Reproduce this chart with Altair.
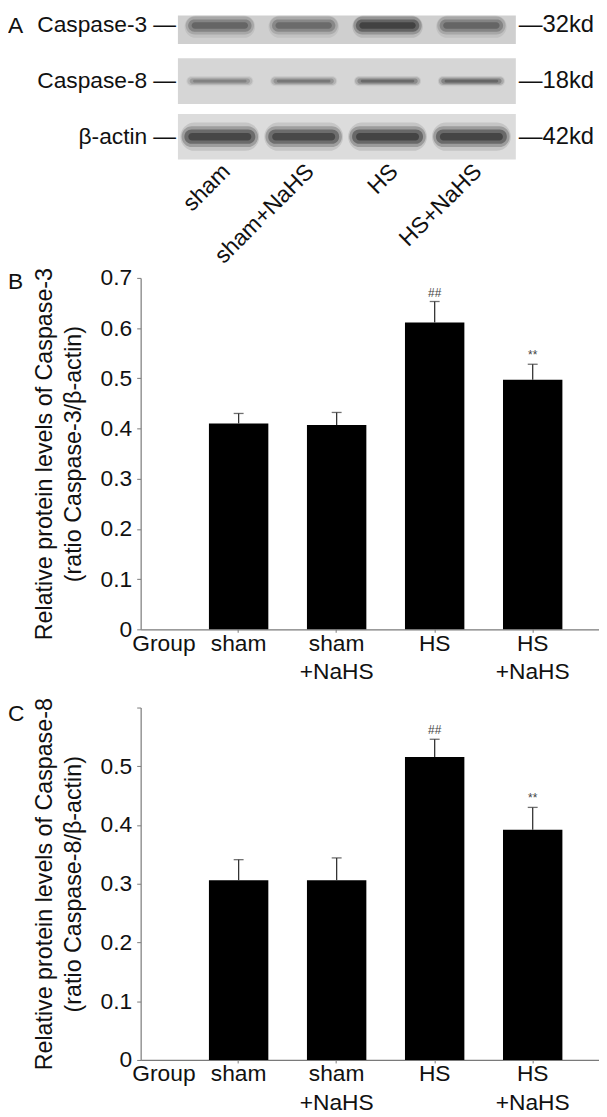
import json
import altair as alt
import pandas as pd

# ---------------- data ----------------
groups = ["sham", "sham+NaHS", "HS", "HS+NaHS"]
casp3_mean = [0.410, 0.407, 0.611, 0.497]
casp3_err = [0.020, 0.025, 0.042, 0.031]
casp8_mean = [0.306, 0.306, 0.516, 0.392]
casp8_err = [0.035, 0.038, 0.030, 0.038]
sig_marks = ["", "", "##", "**"]

blot_proteins = ["Caspase-3", "Caspase-8", "β-actin"]
blot_weights = ["32kd", "18kd", "42kd"]
band_casp3 = [0.60, 0.55, 0.92, 0.60]
band_casp8 = [0.42, 0.48, 0.58, 0.62]
band_actin = [0.90, 0.88, 0.94, 0.92]

y_ticks_b = [0, 0.1, 0.2, 0.3, 0.4, 0.5, 0.6, 0.7]
y_ticks_c = [0, 0.1, 0.2, 0.3, 0.4, 0.5, 0.6]

# ---------------- style ----------------
FONT = "Liberation Sans"
W = 463
HA = 186
TXT = "#111111"
AX = "#7a7a7a"
FS = 23

# ---------------- panel A: western blot ----------------
lanes = [1, 2, 3, 4]
lane_scale = alt.Scale(domain=[0.0555, 5.522], nice=False, zero=False)
row_scale = alt.Scale(domain=[-0.18, 3.135], nice=False, zero=False, reverse=True, clamp=True)
strip_left, strip_right = 0.5, 4.53
strip_half_top = [0.41, 0.41, 0.41]
strip_half_bot = [0.33, 0.41, 0.41]
strip_fill = ["#cfcfcf", "#d6d6d6", "#dcdcdc"]
band_half_w = [0.42, 0.40, 0.47]
band_half_h = [0.13, 0.055, 0.15]
band_layers = [(1.0, 1.7, 0.12), (0.97, 1.25, 0.25), (0.9, 0.85, 0.4), (0.8, 0.45, 0.45)]

strips = pd.DataFrame({
    "x1": [strip_left] * 3,
    "x2": [strip_right] * 3,
    "y1": [r - strip_half_top[r] for r in range(3)],
    "y2": [r + strip_half_bot[r] for r in range(3)],
    "fill": strip_fill,
})

band_rows = []
for r, vals in enumerate([band_casp3, band_casp8, band_actin]):
    for lane, v in zip(lanes, vals):
        for sx, sy, op in band_layers:
            band_rows.append(dict(
                x1=lane - band_half_w[r] * sx, x2=lane + band_half_w[r] * sx,
                y1=r - band_half_h[r] * sy, y2=r + band_half_h[r] * sy, op=v * op))
bands = pd.DataFrame(band_rows)

names = pd.DataFrame({
    "row": [0, 1, 2],
    "xl": [strip_left] * 3,
    "xr": [strip_right] * 3,
    "name": [blot_proteins[0], blot_proteins[1], blot_proteins[2] + "\u00a0\u00a0"],
    "kd": ["\u2014" + k for k in blot_weights],
    "dash": ["\u2014"] * 3,
})
lane_df = pd.DataFrame({"lx": [l + 0.08 for l in lanes], "name": groups})

strip_layer = alt.Chart(strips).mark_rect().encode(
    x=alt.X("x1:Q", scale=lane_scale, axis=None), x2="x2:Q",
    y=alt.Y("y1:Q", scale=row_scale, axis=None), y2="y2:Q",
    color=alt.Color("fill:N", scale=None))
band_layer = alt.Chart(bands).mark_rect(color="#141414", cornerRadius=30).encode(
    x=alt.X("x1:Q", scale=lane_scale, axis=None), x2="x2:Q",
    y=alt.Y("y1:Q", scale=row_scale, axis=None), y2="y2:Q",
    opacity=alt.Opacity("op:Q", scale=None))
name_layer = alt.Chart(names).mark_text(align="right", baseline="middle", fontSize=FS, dx=-31, color=TXT).encode(
    x=alt.X("xl:Q", scale=lane_scale, axis=None), y=alt.Y("row:Q", scale=row_scale, axis=None), text="name:N")
dash_layer = alt.Chart(names).mark_text(align="right", baseline="middle", fontSize=FS, dx=-2, color=TXT).encode(
    x=alt.X("xl:Q", scale=lane_scale, axis=None), y=alt.Y("row:Q", scale=row_scale, axis=None), text="dash:N")
kd_layer = alt.Chart(names).mark_text(align="left", baseline="middle", fontSize=24, dx=3, color=TXT).encode(
    x=alt.X("xr:Q", scale=lane_scale, axis=None), y=alt.Y("row:Q", scale=row_scale, axis=None), text="kd:N")
lane_layer = alt.Chart(lane_df).mark_text(angle=315, align="right", baseline="middle", fontSize=FS, color=TXT).encode(
    x=alt.X("lx:Q", scale=lane_scale, axis=None), y=alt.value(154), text="name:N")
letter_a = alt.Chart(pd.DataFrame({"t": ["A"]})).mark_text(
    align="left", baseline="top", fontSize=FS, color=TXT).encode(x=alt.value(-134), y=alt.value(0), text="t:N")

panel_a = alt.layer(strip_layer, band_layer, name_layer, dash_layer, kd_layer, lane_layer, letter_a).properties(
    width=W, height=HA)


# ---------------- panels B and C: bar charts ----------------
def bar_panel(means, errs, ticks, ymax, label_max, title_lines, letter, letter_y, height):
    df = pd.DataFrame({"group": groups, "mean": means, "err": errs, "sig": sig_marks})
    df["top"] = df["mean"] + df["err"]
    xaxis = alt.Axis(
        title="Group", titleX=23, titleY=3, titleAlign="center", titleBaseline="top",
        titleFontSize=FS, titleFontWeight="normal", titleColor=TXT,
        labelExpr="split(replace(datum.label, '+', ' +'), ' ')",
        labelAngle=0, labelFontSize=FS, labelLineHeight=29, labelPadding=0, labelBaseline="top",
        labelColor=TXT, tickSize=3, tickColor=AX, domainColor=AX, domainWidth=1.2, grid=False)
    label_expr = ("datum.value == 0 ? '0' : (datum.value > %s ? '' : format(datum.value, '.1f'))" % label_max)
    yaxis = alt.Axis(
        values=ticks, labelExpr=label_expr, title=title_lines,
        titleFontSize=23.5, titleFontWeight="normal", titleLineHeight=29, titlePadding=15, titleColor=TXT,
        labelFontSize=FS, labelPadding=5, labelColor=TXT, tickSize=4, tickColor=AX,
        domainColor=AX, domainWidth=1.2, grid=False)
    xscale = alt.Scale(paddingInner=0.394, paddingOuter=0.535, align=0.651)
    yscale = alt.Scale(domain=[0, ymax], nice=False)

    base = alt.Chart(df)
    bars = base.mark_bar(color="#000000").encode(
        x=alt.X("group:N", sort=groups, scale=xscale, axis=xaxis),
        y=alt.Y("mean:Q", scale=yscale, axis=yaxis))
    err = base.mark_rule(color="#333333", strokeWidth=1.3).encode(
        x=alt.X("group:N", sort=groups, scale=xscale, axis=xaxis),
        y=alt.Y("mean:Q", scale=yscale, axis=yaxis), y2="top:Q")
    cap = base.mark_tick(color="#333333", thickness=1.3, size=10).encode(
        x=alt.X("group:N", sort=groups, scale=xscale, axis=xaxis),
        y=alt.Y("top:Q", scale=yscale, axis=yaxis))
    sig = base.mark_text(dy=-9, fontSize=12, color="#444444", baseline="middle").encode(
        x=alt.X("group:N", sort=groups, scale=xscale, axis=xaxis),
        y=alt.Y("top:Q", scale=yscale, axis=yaxis), text="sig:N")
    let = alt.Chart(pd.DataFrame({"t": [letter]})).mark_text(
        align="left", baseline="top", fontSize=FS, color=TXT).encode(
        x=alt.value(-134), y=alt.value(letter_y), text="t:N")
    return alt.layer(bars, err, cap, sig, let).properties(width=W, height=height)


panel_b = bar_panel(casp3_mean, casp3_err, y_ticks_b, 0.7, 0.75,
                    ["Relative protein levels of Caspase-3", "(ratio Caspase-3/β-actin)"], "B", -7, 355)
panel_c = bar_panel(casp8_mean, casp8_err, y_ticks_c, 0.6, 0.55,
                    ["Relative protein levels of Caspase-8", "(ratio Caspase-8/β-actin)"], "C", -4, 356)

chart = alt.vconcat(panel_a, panel_b, panel_c, spacing=79, bounds="flush").resolve_scale(
    x="independent", y="independent").properties(padding=0).configure(font=FONT).configure_view(stroke=None)

chart.save("out.html", embed_options={"renderer": "svg", "actions": False})
